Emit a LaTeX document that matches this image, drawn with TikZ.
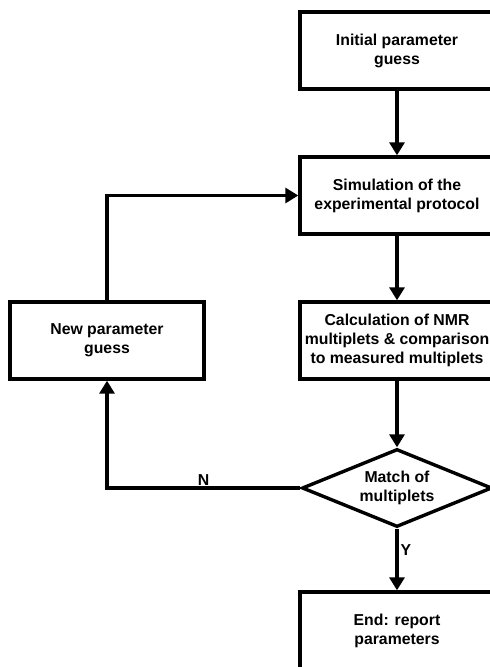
\documentclass[tikz,border=0pt]{standalone}
\usepackage{fontspec}
\setmainfont{Liberation Sans}
\usetikzlibrary{shapes.geometric,arrows.meta}
\begin{document}
\begin{tikzpicture}[x=1pt,y=-1pt,
  txt/.style={align=center,font=\bfseries\fontsize{15.8}{19}\selectfont},
  box/.style={txt,draw,line width=3.4pt,minimum width=194pt,minimum height=77pt,inner sep=0pt},
  dec/.style={txt,draw,line width=3.4pt,shape=diamond,aspect=2.44,minimum width=190pt,minimum height=78pt,inner sep=0pt},
  conn/.style={line width=3.4pt,-{Triangle[width=15pt,length=13pt]}},
  lbl/.style={font=\bfseries\fontsize{15.8}{17}\selectfont,inner sep=2pt}]
\useasboundingbox (0,0) rectangle (490,667);
\clip (0,0) rectangle (490,667);
\fill[white] (0,0) rectangle (490,667);
\node[box] (init) at (397,50.5) {Initial parameter\\guess};
\node[box] (sim) at (397,195.5) {Simulation of the\\experimental protocol};
\node[box] (calc) at (397,340.5) {Calculation of NMR\\multiplets \& comparison\\to measured multiplets};
\node[dec] (match) at (397,488) {Match of\\multiplets};
\node[box] (end) at (397,630.5) {End: report\\parameters};
\node[box] (new) at (107,340.5) {New parameter\\guess};
\draw[conn] (init) -- (sim);
\draw[conn] (sim) -- (calc);
\draw[conn] (calc) -- (match);
\draw[conn] (match) -- node[lbl,pos=0.35,anchor=west] {Y} (end);
\draw[conn] (match.west) -- node[lbl,pos=0.5,anchor=south,inner sep=1pt] {N} (new.south |- match.west) -- (new.south);
\draw[conn] (new.north) -- (new.north |- sim.west) -- (sim.west);
\end{tikzpicture}
\end{document}
